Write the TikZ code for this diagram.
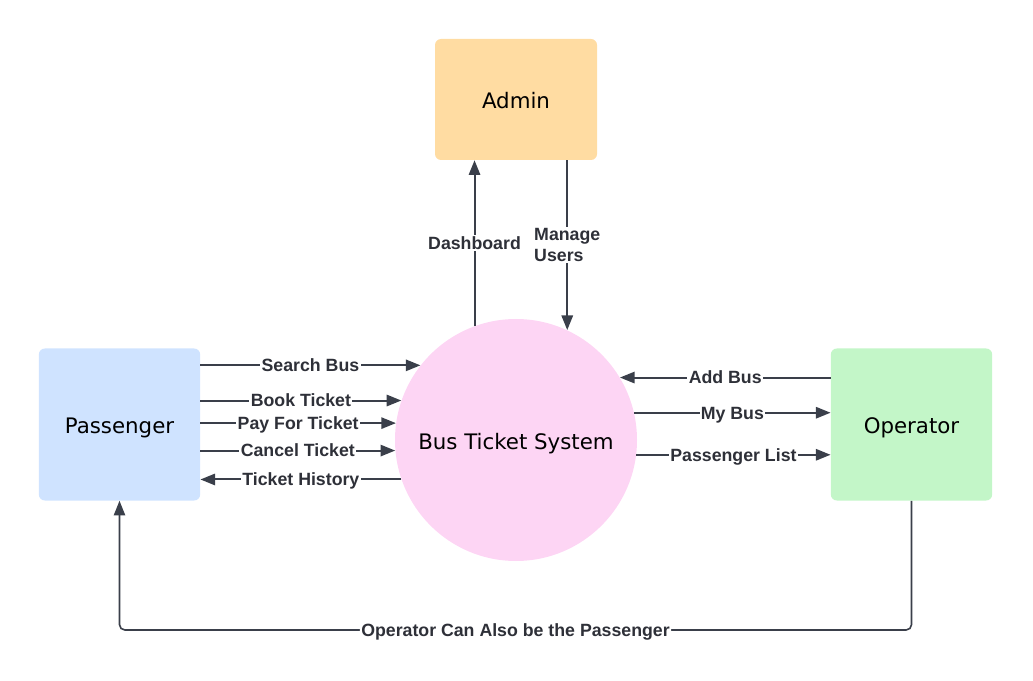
\documentclass[tikz,border=0pt]{standalone}
\usepackage{fontspec}
\setmainfont{DejaVu Sans}
\newfontfamily\lblfont{Liberation Sans}
\usetikzlibrary{arrows.meta}
\usetikzlibrary{positioning}
\definecolor{mline}{HTML}{3A3F4A}
\definecolor{mtext}{HTML}{2E3038}
\definecolor{morange}{HTML}{FFDCA2}
\definecolor{mblue}{HTML}{CFE3FF}
\definecolor{mgreen}{HTML}{C3F6C8}
\definecolor{mpink}{HTML}{FDD5F4}
\tikzset{entity/.style = {rounded corners = 4.5pt, minimum width = 121pt, minimum height = 114pt, inner sep = 0, text height = 14pt, text depth = 0pt, font = \fontsize{16}{19}\selectfont}}
\tikzset{proc/.style = {circle, fill = mpink, minimum size = 181.5pt, inner sep = 0, text height = 13.5pt, text depth = 0pt, font = \fontsize{16}{19}\selectfont}}
\tikzset{flow/.style = {draw = mline, line width = 1.5pt, -{Triangle[length = 11pt, width = 8.5pt]}}}
\tikzset{lbl/.style = {fill = white, text = mtext, inner sep = 1pt, text height = 9.5pt, text depth = 0pt, font = \lblfont\bfseries\fontsize{13.3}{15.5}\selectfont}}
\tikzset{lbltwo/.style = {lbl, text height = {}, text depth = {}, align = left}}

\begin{document}
\begin{tikzpicture}[x = 0.75pt, y = -0.75pt]
    \useasboundingbox (0, 0) rectangle (1033, 681);

    \node [proc] (sys) at (516, 440) {Bus Ticket System};
    \node [entity, fill = morange, minimum height = 90.75pt, minimum width = 121.5pt] (admin) at (516, 99.5) {Admin};
    \node [entity, fill = mblue] (pass) at (119.5, 424.5) {Passenger};
    \node [entity, fill = mgreen] (oper) at (911.5, 424.5) {Operator};

    % admin
    \draw [flow] (sys.110.3) -- (sys.110.3 |- admin.south) node [lbl, midway] {Dashboard};
    \draw [flow] (admin.south -| sys.65.6) -- (sys.65.6) node [lbltwo, midway] {Manage\\Users};

    % passenger
    \draw [flow] (pass.east |- sys.142.9) -- (sys.142.9) node [lbl, midway] {Search Bus};
    \draw [flow] (pass.east |- sys.161.2) -- (sys.161.2) node [lbl, midway] {Book Ticket};
    \draw [flow] (pass.east |- sys.172.9) -- (sys.172.9) node [lbl, midway] {Pay For Ticket};
    \draw [flow] (pass.east |- sys.185.2) -- (sys.185.2) node [lbl, midway] {Cancel Ticket};
    \draw [flow] (sys.199.8) -- (pass.east |- sys.199.8) node [lbl, midway] {Ticket History};

    % operator
    \draw [flow] (oper.west |- sys.31.9) -- (sys.31.9) node [lbl, midway] {Add Bus};
    \draw [flow] (sys.13.9) -- (oper.west |- sys.13.9) node [lbl, midway] {My Bus};
    \draw [flow] (sys.353.4) -- (oper.west |- sys.353.4) node [lbl, midway] {Passenger List};

    \coordinate (turn) at (0, 630);
    \draw [flow, line width = 1.2pt, rounded corners = 4] (oper.south) -- (oper.south |- turn)
      -- (pass.south |- turn) node [lbl, midway] {Operator Can Also be the Passenger} -- (pass.south);
  \end{tikzpicture}
\end{document}
